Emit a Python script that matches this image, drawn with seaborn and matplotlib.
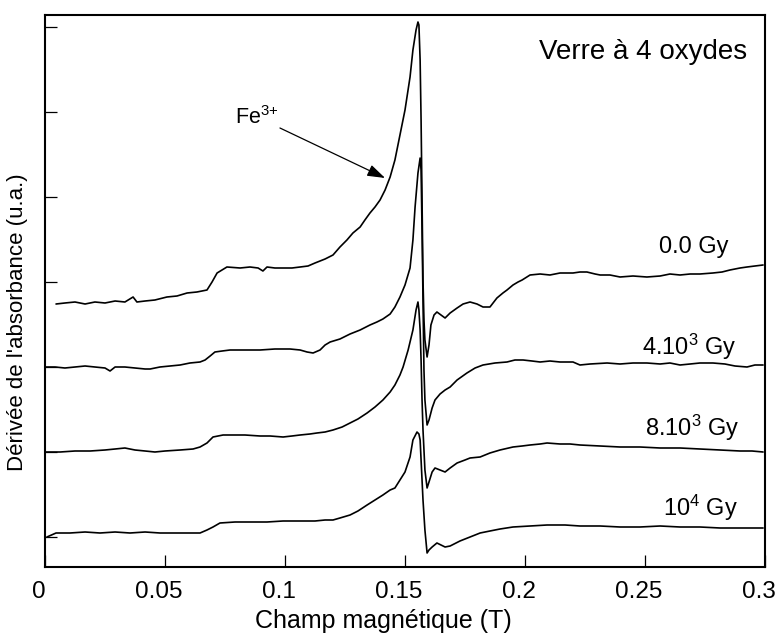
import numpy as np
import pandas as pd
import matplotlib
matplotlib.use("Agg")
import matplotlib.pyplot as plt
import matplotlib.transforms as mtransforms
import seaborn as sns

# ---------------- data (field in T, derivative in arbitrary units) ----------------
x_0gy = [0.0046, 0.0083, 0.0125, 0.0167, 0.0208, 0.025, 0.0292, 0.0333, 0.0367, 0.0383,
         0.0417, 0.0458, 0.0508, 0.055, 0.0592, 0.0633, 0.0675, 0.0696, 0.0717, 0.0758,
         0.0813, 0.0854, 0.0888, 0.0908, 0.0925, 0.0958, 0.0992, 0.1029, 0.1063, 0.1096,
         0.1125, 0.1167, 0.12, 0.1229, 0.1258, 0.1283, 0.1313, 0.1333, 0.1354, 0.1375,
         0.1396, 0.1417, 0.1438, 0.1458, 0.1479, 0.15, 0.1521, 0.1533, 0.1546, 0.1554,
         0.1558, 0.1563, 0.1567, 0.1571, 0.1575, 0.1579, 0.1583, 0.1592, 0.16, 0.1608,
         0.1621, 0.1633, 0.165, 0.1667, 0.1688, 0.1717, 0.1742, 0.1771, 0.18, 0.1825,
         0.1854, 0.1883, 0.1908, 0.1925, 0.195, 0.1971, 0.1988, 0.2021, 0.2063, 0.2104,
         0.2146, 0.22, 0.2229, 0.2258, 0.2292, 0.2313, 0.2354, 0.2396, 0.245, 0.2508,
         0.2563, 0.2604, 0.2646, 0.2688, 0.2729, 0.2783, 0.2821, 0.2854, 0.2896, 0.2925,
         0.2958, 0.2992]
y_0gy = [263, 264, 265, 263, 265, 264, 266, 265, 270, 265,
         266, 267, 270, 271, 274, 275, 277, 285, 294, 300,
         299, 300, 299, 296, 300, 299, 299, 299, 300, 301,
         304, 308, 312, 320, 327, 334, 340, 347, 354, 360,
         367, 377, 390, 407, 432, 457, 490, 517, 537, 545,
         542, 507, 447, 367, 287, 247, 227, 210, 222, 242,
         252, 255, 252, 249, 254, 259, 263, 265, 263, 260,
         260, 269, 274, 277, 282, 285, 287, 292, 293, 292,
         294, 294, 295, 295, 293, 292, 292, 290, 291, 290,
         291, 293, 292, 293, 293, 294, 295, 297, 299, 300,
         301, 302]

x_4e3gy = [0.0, 0.0042, 0.0083, 0.0125, 0.0167, 0.0208, 0.025, 0.0271, 0.0292, 0.0333,
           0.0375, 0.0417, 0.0438, 0.0479, 0.0521, 0.0563, 0.0604, 0.0646, 0.0667, 0.0688,
           0.0708, 0.0738, 0.0771, 0.0833, 0.0896, 0.0958, 0.1021, 0.1063, 0.1092, 0.1117,
           0.1146, 0.1167, 0.1188, 0.1229, 0.1271, 0.1313, 0.1354, 0.1383, 0.1408, 0.1438,
           0.1458, 0.1479, 0.15, 0.1521, 0.1533, 0.1542, 0.1554, 0.1563, 0.1567, 0.1571,
           0.1575, 0.1579, 0.1583, 0.1592, 0.16, 0.1613, 0.1625, 0.1646, 0.1667, 0.1688,
           0.1717, 0.1758, 0.1792, 0.1825, 0.1875, 0.1925, 0.1958, 0.1992, 0.2029, 0.2063,
           0.2104, 0.2146, 0.22, 0.2229, 0.2271, 0.2342, 0.2396, 0.245, 0.2508, 0.2563,
           0.2604, 0.2646, 0.2688, 0.2729, 0.2783, 0.2833, 0.2875, 0.2925, 0.2958, 0.2992]
y_4e3gy = [200, 200, 199, 200, 201, 200, 199, 196, 200, 200,
           199, 198, 198, 200, 201, 202, 204, 205, 207, 211,
           215, 216, 217, 217, 217, 218, 218, 217, 215, 214,
           217, 222, 225, 228, 233, 237, 242, 245, 248, 253,
           260, 270, 282, 299, 327, 360, 394, 409, 397, 337,
           267, 197, 167, 142, 147, 159, 167, 173, 177, 180,
           187, 194, 199, 202, 204, 205, 207, 207, 206, 205,
           206, 205, 205, 202, 203, 204, 203, 204, 204, 203,
           204, 202, 203, 204, 204, 203, 201, 200, 202, 202]

x_8e3gy = [0.0, 0.0063, 0.0125, 0.0188, 0.025, 0.0292, 0.0333, 0.0375, 0.0417, 0.0458,
           0.05, 0.0563, 0.0617, 0.0646, 0.0675, 0.07, 0.0742, 0.0783, 0.0833, 0.0896,
           0.0938, 0.0992, 0.1029, 0.1063, 0.1104, 0.1133, 0.1167, 0.12, 0.1238, 0.1271,
           0.1304, 0.1342, 0.1375, 0.1408, 0.1438, 0.1458, 0.1479, 0.1492, 0.1513, 0.1533,
           0.1546, 0.1554, 0.1558, 0.1563, 0.1567, 0.1571, 0.1575, 0.1583, 0.1592, 0.16,
           0.1613, 0.1625, 0.1646, 0.1667, 0.1688, 0.1717, 0.175, 0.1771, 0.1813, 0.1854,
           0.1896, 0.195, 0.1988, 0.2021, 0.2063, 0.2092, 0.2146, 0.2188, 0.2229, 0.2313,
           0.2396, 0.2479, 0.2563, 0.2646, 0.2729, 0.2813, 0.2896, 0.2946, 0.2992]
y_8e3gy = [115, 115, 116, 116, 117, 118, 119, 117, 116, 115,
           116, 117, 118, 120, 124, 130, 132, 132, 132, 131,
           131, 130, 131, 132, 133, 134, 135, 137, 140, 144,
           148, 154, 160, 167, 175, 182, 192, 200, 217, 237,
           257, 265, 257, 237, 207, 167, 137, 97, 79, 85,
           95, 99, 97, 95, 99, 104, 107, 109, 110, 114,
           117, 120, 121, 122, 123, 124, 123, 123, 122, 121,
           120, 120, 119, 119, 118, 117, 116, 116, 115]

x_1e4gy = [0.0008, 0.0046, 0.0104, 0.0167, 0.0229, 0.0292, 0.0354, 0.0417, 0.0479, 0.0542,
           0.0604, 0.0646, 0.0675, 0.07, 0.0729, 0.0792, 0.0854, 0.0925, 0.0992, 0.1063,
           0.1125, 0.1167, 0.12, 0.1229, 0.1271, 0.1304, 0.1342, 0.1375, 0.1408, 0.1438,
           0.1458, 0.1479, 0.15, 0.1521, 0.1533, 0.155, 0.1558, 0.1563, 0.1567, 0.1571,
           0.1575, 0.1583, 0.1592, 0.16, 0.1613, 0.1633, 0.165, 0.1667, 0.1688, 0.1729,
           0.1771, 0.1813, 0.1854, 0.1896, 0.195, 0.2021, 0.2092, 0.2167, 0.2229, 0.2313,
           0.2396, 0.2479, 0.2563, 0.2646, 0.2729, 0.2813, 0.2896, 0.2992]
y_1e4gy = [30, 34, 34, 35, 34, 35, 34, 35, 34, 34,
           34, 34, 37, 40, 44, 45, 45, 45, 46, 46,
           46, 47, 47, 49, 52, 56, 62, 67, 72, 77,
           79, 87, 95, 110, 127, 135, 133, 127, 107, 87,
           67, 37, 14, 17, 20, 24, 22, 20, 21, 26,
           30, 34, 36, 38, 40, 41, 42, 42, 41, 41,
           40, 40, 41, 40, 40, 39, 39, 39]

dose_labels = ["0.0 Gy", "4.10$^3$ Gy", "8.10$^3$ Gy", "10$^4$ Gy"]
x_ticks = [0, 0.05, 0.1, 0.15, 0.2, 0.25, 0.3]
x_tick_labels = ["0", "0.05", "0.1", "0.15", "0.2", "0.25", "0.3"]
y_ticks = [30, 115, 200, 285, 370, 455, 540]

# ---------------- style ----------------
sns.set_theme(style="white")
plt.rcParams["font.family"] = ["Liberation Sans", "DejaVu Sans"]
plt.rcParams["mathtext.fontset"] = "custom"
plt.rcParams["mathtext.rm"] = "Liberation Sans"
plt.rcParams["mathtext.it"] = "Liberation Sans:italic"
plt.rcParams["mathtext.bf"] = "Liberation Sans:bold"

fig = plt.figure(figsize=(7.78, 6.34), dpi=100)
ax = fig.add_axes([45 / 778, 1 - 567 / 634, 720 / 778, 552 / 634])

curves = [(x_0gy, y_0gy), (x_4e3gy, y_4e3gy), (x_8e3gy, y_8e3gy), (x_1e4gy, y_1e4gy)]
for (xs, ys), lab in zip(curves, dose_labels):
    df = pd.DataFrame({"B": xs, "dA": ys})
    sns.lineplot(data=df, x="B", y="dA", ax=ax, color="black", lw=1.2,
                 estimator=None, sort=False, legend=False)

ax.set_xlim(0, 0.3)
ax.set_ylim(0, 552)
ax.set_xticks(x_ticks)
ax.set_xticklabels(x_tick_labels)
ax.set_yticks(y_ticks)
ax.set_yticklabels([])
ax.tick_params(axis="x", direction="in", length=8.5, width=0.9, color="black",
               labelsize=17.5, labelcolor="black", pad=10, bottom=True, top=False)
ax.tick_params(axis="y", direction="in", length=8.5, width=0.9, color="black",
               left=True, right=False)
for sp in ax.spines.values():
    sp.set_visible(True)
    sp.set_color("black")
    sp.set_linewidth(1.5)

offset = mtransforms.ScaledTranslation(-6 / 100, 0, fig.dpi_scale_trans)
for lbl in ax.get_xticklabels():
    lbl.set_transform(lbl.get_transform() + offset)

ax.set_xlabel("Champ magnétique (T)", fontsize=18, color="black")
ax.xaxis.set_label_coords(338 / 720, -0.076)
ax.set_ylabel("Dérivée de l'absorbance (u.a.)", fontsize=16, color="black")
ax.yaxis.set_label_coords(-0.024, 0.444)

# annotations
ax.text(0.2925, 515, "Verre à 4 oxydes", ha="right", va="center", fontsize=20, color="black")
label_pos = [(0.2846, 320), (0.2883, 220), (0.2896, 139), (0.2888, 59)]
for (tx, ty), lab in zip(label_pos, dose_labels):
    ax.text(tx, ty, lab, ha="right", va="center", fontsize=17, color="black")

ax.text(0.0792, 449, "Fe$^{3{+}}$", ha="left", va="center", fontsize=15.5, color="black")
ax.annotate("", xy=(0.1417, 389), xytext=(0.0979, 439),
            arrowprops=dict(arrowstyle="-|>,head_length=0.9,head_width=0.3",
                            color="black", lw=0.9, shrinkA=0, shrinkB=0))

fig.savefig("out.png", dpi=100, facecolor="white")
